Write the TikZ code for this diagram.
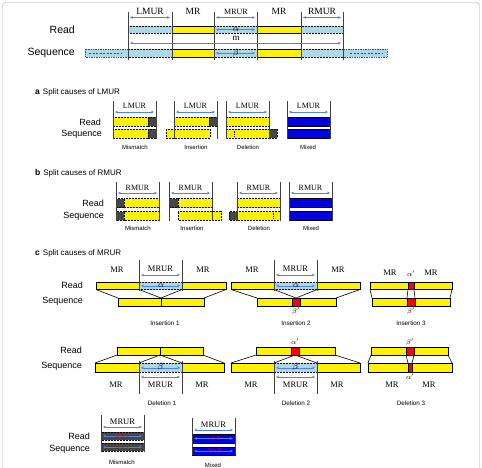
\documentclass[tikz,border=0pt]{standalone}
\usepackage{fontspec}
\setmainfont{Liberation Serif}
\setsansfont{Liberation Sans}
\usepackage{amsmath}
\usepackage{tikz}
\usetikzlibrary{positioning, arrows.meta}

\definecolor{lightblue}{RGB}{173,216,230}
\definecolor{dimblue}{RGB}{80,130,225}
\definecolor{misgray}{RGB}{70,70,70}
\definecolor{mixblue}{RGB}{0,0,225}

\begin{document}
\begin{tikzpicture}[
    x=1pt, y=-1pt,
    >={Stealth[length=3pt, width=2.6pt]},
    bound/.style={draw=black!75, line width=0.9pt},
    dim/.style={<->, draw=dimblue, line width=0.6pt},
    link/.style={draw=black, line width=0.6pt},
    mr/.style={fill=yellow, draw=black, line width=0.6pt},
    mrdash/.style={fill=yellow, draw=black, line width=0.6pt, dash pattern=on 2pt off 1pt},
    mur/.style={fill=lightblue, draw=black, line width=0.6pt, dash pattern=on 2pt off 1pt},
    mis/.style={fill=misgray, draw=black, line width=0.6pt, dash pattern=on 2pt off 1pt},
    mix/.style={fill=mixblue, draw=black, line width=0.6pt},
    ins/.style={fill=red, draw=black, line width=0.6pt},
    rlab/.style={font=\fontsize{8.5}{8.5}\selectfont, inner sep=0pt},
    glab/.style={font=\fontsize{9}{9}\selectfont, inner sep=0pt},
    row/.style={font=\sffamily\fontsize{9}{9}\selectfont, anchor=east, inner sep=0pt},
    capt/.style={font=\sffamily\fontsize{6}{6}\selectfont, inner sep=0pt},
    sechead/.style={font=\sffamily\fontsize{8}{8}\selectfont, anchor=west, inner sep=0pt},
    redtxt/.style={font=\fontsize{6}{6}\selectfont, text=red, inner sep=0pt}
]
\useasboundingbox (0,0) rectangle (482,467);

% Outer frame
\draw[black!35, rounded corners=3pt] (2.5,2.5) rectangle (479.5,476);

% ---------------- Overview: read against sequence ----------------
\node[row, font=\sffamily\fontsize{10.5}{10.5}\selectfont] (readT) at (75,29.5) {Read};
\node[row, font=\sffamily\fontsize{10.5}{10.5}\selectfont] (seqT) at (75,53) {Sequence};

% Read bar
\draw[mur] (128,26) rectangle (172,33.3);
\draw[mr]  (172,26) rectangle (214,33.3);
\draw[mur] (214,26) rectangle (257,33.3);
\draw[mr]  (257,26) rectangle (301,33.3);
\draw[mur] (301,26) rectangle (343,33.3);

% Sequence bar, with its flanks
\draw[fill=lightblue, draw=black!70, densely dotted, line width=0.7pt] (85,49) rectangle (128,57);
\draw[fill=lightblue, draw=black!70, densely dotted, line width=0.7pt] (343,49) rectangle (387,57);
\draw[black!70, dash pattern=on 2pt off 1.5pt, line width=0.6pt] (89,53) -- (121,53);
\draw[black!70, dash pattern=on 2pt off 1.5pt, line width=0.6pt] (350,53) -- (382,53);
\draw[mur] (128,49) rectangle (172,57);
\draw[mr]  (172,49) rectangle (214,57);
\draw[mur] (214,49) rectangle (257,57);
\draw[mr]  (257,49) rectangle (301,57);
\draw[mur] (301,49) rectangle (343,57);

% Region borders
\foreach \x in {128,172,214,257,301,343}
    \draw[bound] (\x,12) -- (\x,60);

% Region names
\node[rlab, font=\fontsize{9.5}{9.5}\selectfont] (lmurT) at (150,11.5) {LMUR};
\node[rlab, font=\fontsize{9.5}{9.5}\selectfont] (mrT1) at (193,11.5) {MR};
\node[rlab, font=\fontsize{8}{8}\selectfont] (mrurT) at (236,12) {MRUR};
\node[rlab, font=\fontsize{9.5}{9.5}\selectfont] (mrT2) at (279,11.5) {MR};
\node[rlab, font=\fontsize{9.5}{9.5}\selectfont] (rmurT) at (322,11.5) {RMUR};
\draw[dim] (130,17.5) -- (170,17.5);
\draw[dim] (216,17.5) -- (255,17.5);
\draw[dim] (303,17.5) -- (341,17.5);

% alpha, m, beta
\draw[dim] (216,29.7) -- (255,29.7);
\node[glab] (alphaT) at (236,29.2) {$\alpha$};
\draw[dim] (130,43) -- (341,43);
\node[glab] (mT) at (236,38.5) {m};
\draw[dim] (216,53) -- (255,53);
\node[glab] (betaT) at (236,53) {$\beta$};

% ---------------- a: split causes of LMUR ----------------
\node[sechead] (heada) at (35,92) {{\bfseries\fontsize{8.5}{8.5}\selectfont a}\hspace{3pt}Split causes of LMUR};
\node[row] (readA) at (101,122) {Read};
\node[row] (seqA) at (102,134) {Sequence};

% Mismatch
\draw[mrdash] (113,117) rectangle (148,126);
\draw[mis]    (148,117) rectangle (156,126);
\draw[mrdash] (113,129) rectangle (148,138);
\draw[mis]    (148,129) rectangle (156,138);
% Insertion
\draw[mrdash] (174,117) rectangle (209,126);
\draw[mis]    (209,117) rectangle (217,126);
\draw[mrdash] (166,129) rectangle (210,138);
% Deletion
\draw[mrdash] (226,117) rectangle (269,126);
\draw[mrdash] (226,129) rectangle (269,138);
\draw[mis]    (269,129) rectangle (277,138);
\draw[black, dash pattern=on 1.5pt off 1pt, line width=0.6pt] (234,131) -- (234,137);
% Mixed
\draw[mix] (287,117) rectangle (330,126);
\draw[mix] (287,129) rectangle (330,138);

\foreach \x/\c/\t in {113/135/Mismatch, 174/196/Insertion, 226/248/Deletion, 287/308/Mixed} {
    \draw[bound] (\x,101) -- (\x,139);
    \draw[bound] (\x+43,101) -- (\x+43,139);
    \node[rlab, font=\fontsize{8}{8}\selectfont] (lmurA\x) at (\x+21.5,106) {LMUR};
    \draw[dim] (\x+2,112) -- (\x+41,112);
    \node[capt] (captA\x) at (\c,147) {\t};
}

% ---------------- b: split causes of RMUR ----------------
\node[sechead] (headb) at (35,173) {{\bfseries\fontsize{8.5}{8.5}\selectfont b}\hspace{3pt}Split causes of RMUR};
\node[row] (readB) at (104,203) {Read};
\node[row] (seqB) at (104,216) {Sequence};

% Mismatch
\draw[mis]    (116,198.5) rectangle (124,207.5);
\draw[mrdash] (124,198.5) rectangle (159,207.5);
\draw[mis]    (116,211.5) rectangle (124,220);
\draw[mrdash] (124,211.5) rectangle (159,220);
% Insertion
\draw[mis]    (169,198.5) rectangle (178,207.5);
\draw[mrdash] (178,198.5) rectangle (212,207.5);
\draw[mrdash] (178,211.5) rectangle (221,220);
% Deletion
\draw[mrdash] (237,198.5) rectangle (280,207.5);
\draw[mis]    (229,211.5) rectangle (237,220);
\draw[mrdash] (237,211.5) rectangle (280,220);
\draw[black, dash pattern=on 1.5pt off 1pt, line width=0.6pt] (273,213) -- (273,219);
% Mixed
\draw[mix] (289,198.5) rectangle (332,207.5);
\draw[mix] (289,211.5) rectangle (332,220);

\foreach \x/\c/\t in {116/138/Mismatch, 169/192/Insertion, 237/259/Deletion, 289/311/Mixed} {
    \draw[bound] (\x,182) -- (\x,221);
    \draw[bound] (\x+43,182) -- (\x+43,221);
    \node[rlab, font=\fontsize{8}{8}\selectfont] (rmurB\x) at (\x+21.5,188) {RMUR};
    \draw[dim] (\x+2,193) -- (\x+41,193);
    \node[capt] (captB\x) at (\c,228) {\t};
}

% ---------------- c: split causes of MRUR ----------------
\node[sechead] (headc) at (35,253) {{\bfseries\fontsize{8.5}{8.5}\selectfont c}\hspace{3pt}Split causes of MRUR};
\node[row] (readC1) at (83,285.5) {Read};
\node[row] (seqC1) at (83,301.5) {Sequence};
\node[row] (readC2) at (82,350.5) {Read};
\node[row] (seqC2) at (82,366.5) {Sequence};

% Insertion 1
\draw[mr]  (96,282) rectangle (139,289.5);
\draw[mur] (139,282) rectangle (182,289.5);
\draw[mr]  (182,282) rectangle (226,289.5);
\draw[mr]  (118,298) rectangle (161,306);
\draw[mr]  (161,298) rectangle (204,306);
\draw[link] (96,289.5) -- (118,298);
\draw[link] (226,289.5) -- (204,298);
\draw[link] (139,289.5) -- (161,298) -- (182,289.5);
\draw[dim] (141,285.8) -- (180,285.8);
\node[glab] (alphaI1) at (161,285.5) {$\alpha$};
\node[capt, font=\sffamily\fontsize{6.3}{6.3}\selectfont] (captI1) at (165,323) {Insertion 1};

% Insertion 2
\draw[mr]  (231,282) rectangle (274,289.5);
\draw[mur] (274,282) rectangle (317,289.5);
\draw[mr]  (317,282) rectangle (360,289.5);
\draw[mr]  (257,298) rectangle (336,306);
\draw[ins] (292,298) rectangle (300,306);
\draw[link] (231,289.5) -- (257,298);
\draw[link] (360,289.5) -- (336,298);
\draw[link] (274,289.5) -- (296,298) -- (317,289.5);
\draw[dim] (276,285.8) -- (315,285.8);
\node[glab] (alphaI2) at (296,285.5) {$\alpha$};
\node[glab, font=\fontsize{7}{7}\selectfont] (betaI2) at (296,311.5) {$\beta'$};
\node[capt, font=\sffamily\fontsize{6.3}{6.3}\selectfont] (captI2) at (296,323) {Insertion 2};

% Insertion 1 and 2: region borders and names
\foreach \x/\n in {139/a, 274/b} {
    \draw[bound] (\x,260) -- (\x,291);
    \draw[bound] (\x+43,260) -- (\x+43,291);
    \node[rlab] (mrL\n) at (\x-22,270) {MR};
    \node[rlab] (mrurI\n) at (\x+21.5,269) {MRUR};
    \node[rlab] (mrR\n) at (\x+64,270) {MR};
    \draw[dim] (\x+2,275) -- (\x+41,275);
}

% Insertion 3
\draw[mr]  (370,282) rectangle (452,289.5);
\draw[ins] (408,282) rectangle (414,289.5);
\draw[mr]  (372,298) rectangle (450,306);
\draw[ins] (407,298) rectangle (415,306);
\draw[link] (370,289.5) -- (372,298);
\draw[link] (452,289.5) -- (450,298);
\draw[link] (408,289.5) -- (407,298);
\draw[link] (414,289.5) -- (415,298);
\node[rlab] (mrI3a) at (390,273) {MR};
\node[rlab] (mrI3b) at (431,273) {MR};
\node[glab, font=\fontsize{7}{7}\selectfont] (alphaI3) at (411,273.5) {$\alpha'$};
\node[glab, font=\fontsize{7}{7}\selectfont] (betaI3) at (411,311.5) {$\beta'$};
\node[capt, font=\sffamily\fontsize{6.3}{6.3}\selectfont] (captI3) at (411,323) {Insertion 3};

% Deletion 1
\draw[mr]  (117,347) rectangle (160,355);
\draw[mr]  (160,347) rectangle (203,355);
\draw[mr]  (95,363) rectangle (139,372);
\draw[mur] (139,363) rectangle (182,372);
\draw[mr]  (182,363) rectangle (224,372);
\draw[link] (117,355) -- (95,363);
\draw[link] (203,355) -- (224,363);
\draw[link] (139,363) -- (160,355) -- (182,363);
\node[capt, font=\sffamily\fontsize{6.3}{6.3}\selectfont] (captD1) at (162,403) {Deletion 1};

% Deletion 2
\draw[mr]  (256,347) rectangle (335,355);
\draw[ins] (291,347) rectangle (299,355);
\draw[mr]  (231,363) rectangle (274,372);
\draw[mur] (274,363) rectangle (317,372);
\draw[mr]  (317,363) rectangle (360,372);
\draw[link] (256,355) -- (231,363);
\draw[link] (335,355) -- (360,363);
\draw[link] (274,363) -- (295,355) -- (317,363);
\node[glab, font=\fontsize{7}{7}\selectfont] (alphaD2) at (295,342) {$\alpha'$};
\node[capt, font=\sffamily\fontsize{6.3}{6.3}\selectfont] (captD2) at (296,403) {Deletion 2};

% Deletion 1 and 2: region borders and names
\foreach \x/\n in {139/a, 274/b} {
    \draw[bound] (\x,361) -- (\x,394);
    \draw[bound] (\x+43,361) -- (\x+43,394);
    \draw[dim] (\x+2,367.8) -- (\x+41,367.8);
    \node[glab] (betaD\n) at (\x+21.5,367.5) {$\beta$};
    \draw[dim] (\x+2,377) -- (\x+41,377);
    \node[rlab] (mrDL\n) at (\x-23,385) {MR};
    \node[rlab] (mrurD\n) at (\x+21.5,385) {MRUR};
    \node[rlab] (mrDR\n) at (\x+63,385) {MR};
}

% Deletion 3
\draw[mr]  (371,347) rectangle (448,355);
\draw[ins] (406,347) rectangle (414,355);
\draw[mr]  (368,363) rectangle (452,372);
\draw[ins] (408,363) rectangle (412,372);
\draw[link] (371,355) -- (368,363);
\draw[link] (448,355) -- (452,363);
\draw[link] (406,355) -- (408,363);
\draw[link] (414,355) -- (412,363);
\node[glab, font=\fontsize{7}{7}\selectfont] (betaD3) at (410,342) {$\beta'$};
\node[glab, font=\fontsize{7}{7}\selectfont] (alphaD3) at (410,377) {$\alpha'$};
\node[rlab] (mrD3a) at (392,385) {MR};
\node[rlab] (mrD3b) at (429,385) {MR};
\node[capt, font=\sffamily\fontsize{6.3}{6.3}\selectfont] (captD3) at (411,403) {Deletion 3};

% Mismatch and mixed MRUR
\node[row] (readM) at (90,436.5) {Read};
\node[row] (seqM) at (90,449) {Sequence};

\draw[mis] (101,432) rectangle (144,440);
\draw[mis] (101,443) rectangle (144,451);
\draw[mix] (192,434) rectangle (235,443);
\draw[mix] (192,447) rectangle (235,455);
\foreach \x/\y/\n in {101/415/m, 192/418/x} {
    \draw[bound] (\x,\y) -- (\x,\y+37);
    \draw[bound] (\x+43,\y) -- (\x+43,\y+37);
    \node[rlab] (mrurM\n) at (\x+21.5,\y+6.5) {MRUR};
    \draw[dim] (\x+2,\y+12) -- (\x+41,\y+12);
}
\draw[dim] (103,436) -- (142,436);
\draw[dim] (103,447) -- (142,447);
\draw[dim] (194,438.5) -- (233,438.5);
\draw[dim] (194,451) -- (233,451);
\node[redtxt] (alphaM) at (122.5,436) {$\alpha{=}1$};
\node[redtxt] (betaM) at (122.5,447) {$\beta{=}1$};
\node[redtxt] (alphaX) at (213.5,438.5) {$\alpha{>}1$};
\node[redtxt] (betaX) at (213.5,451) {$\beta{>}1$};
\node[capt] (captM) at (122,462) {Mismatch};
\node[capt] (captX) at (213,465) {Mixed};

\end{tikzpicture}
\end{document}
